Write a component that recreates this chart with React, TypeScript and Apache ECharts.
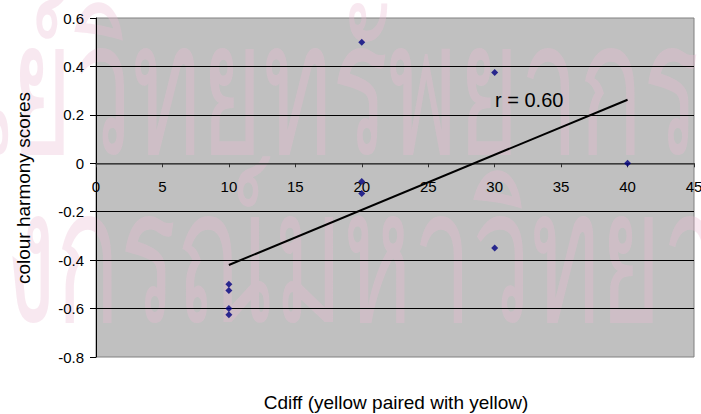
import React, { useEffect, useRef } from "react";
import * as echarts from "echarts";

const xValues = [10, 10, 10, 10, 20, 20, 20, 30, 30, 40];
const yValues = [-0.5, -0.525, -0.6, -0.625, 0.5, -0.075, -0.125, 0.375, -0.35, 0];
const xTicks = { min: 0, max: 45, step: 5 };
const yTicks = { min: -0.8, max: 0.6, step: 0.2 };
const xTitle = "Cdiff (yellow paired with yellow)";
const yTitle = "colour harmony scores";
const watermarkTop = "ศูนย์วิทยทรัพยากร";
const watermarkBottom = "จุฬาลงกรณ์มหาวิทยาลัย";

const FONT = "'Liberation Sans', Arial, sans-serif";

function regression(xs: number[], ys: number[]) {
  const n = xs.length;
  const mx = xs.reduce((a, b) => a + b, 0) / n;
  const my = ys.reduce((a, b) => a + b, 0) / n;
  let sxy = 0, sxx = 0, syy = 0;
  for (let i = 0; i < n; i++) {
    sxy += (xs[i] - mx) * (ys[i] - my);
    sxx += (xs[i] - mx) ** 2;
    syy += (ys[i] - my) ** 2;
  }
  const slope = sxy / sxx;
  const intercept = my - slope * mx;
  const r = sxy / Math.sqrt(sxx * syy);
  return { slope, intercept, r };
}

export default function App() {
  const ref = useRef<HTMLDivElement>(null);
  useEffect(() => {
    if (!ref.current) return;
    const chart = echarts.init(ref.current, null, { renderer: "svg" });
    const { slope, intercept, r } = regression(xValues, yValues);
    const xMin = Math.min(...xValues);
    const xMax = Math.max(...xValues);
    const trend = [
      [xMin, intercept + slope * xMin],
      [xMax, intercept + slope * xMax],
    ];
    const gridTop = 18;
    const gridBottom = 57;
    const plotH = 414 - gridTop - gridBottom;
    // move the x axis up so it crosses the y axis at 0
    const zeroOffset = -plotH * (0 - yTicks.min) / (yTicks.max - yTicks.min);
    const wmFill = "rgba(235,188,210,0.34)";
    chart.setOption({
      animation: false,
      backgroundColor: "#ffffff",
      grid: {
        left: 96,
        right: 7,
        top: gridTop,
        bottom: gridBottom,
        show: true,
        z: 0,
        containLabel: false,
        outerBoundsMode: "none",
        backgroundColor: "#c0c0c0",
        borderColor: "#808080",
        borderWidth: 1,
      },
      xAxis: {
        type: "value",
        z: 3,
        min: xTicks.min,
        max: xTicks.max,
        interval: xTicks.step,
        position: "bottom",
        offset: zeroOffset,
        axisLine: { onZero: false, lineStyle: { color: "#505050", width: 1.5 } },
        axisTick: { show: true, length: 4, lineStyle: { color: "#303030" } },
        axisLabel: { fontFamily: FONT, fontSize: 15, color: "#000", margin: 16 },
        splitLine: { show: false },
      },
      yAxis: {
        type: "value",
        z: 3,
        min: yTicks.min,
        max: yTicks.max,
        interval: yTicks.step,
        axisLine: { show: true, onZero: false, lineStyle: { color: "#000", width: 1 } },
        axisTick: { show: true, length: 6, lineStyle: { color: "#000" } },
        axisLabel: { fontFamily: FONT, fontSize: 15, color: "#000", margin: 12 },
        splitLine: {
          show: true,
          showMinLine: false,
          showMaxLine: false,
          lineStyle: { color: "#000", width: 1 },
        },
      },
      series: [
        {
          type: "line",
          data: trend,
          showSymbol: false,
          symbol: "none",
          lineStyle: { color: "#000", width: 2 },
          z: 4,
        },
        {
          type: "scatter",
          data: xValues.map((x, i) => [x, yValues[i]]),
          symbol: "diamond",
          symbolSize: 7,
          itemStyle: { color: "#000080" },
          z: 5,
        },
      ],
      graphic: [
        {
          type: "text",
          x: 495,
          y: 100,
          z: 10,
          style: {
            text: "r = " + r.toFixed(2),
            font: `20px ${FONT}`,
            fill: "#000",
            textVerticalAlign: "middle",
          },
        },
        {
          type: "text",
          x: 396,
          y: 402,
          z: 10,
          style: {
            text: xTitle,
            font: `19px ${FONT}`,
            fill: "#000",
            textAlign: "center",
            textVerticalAlign: "middle",
          },
        },
        {
          type: "text",
          x: 23,
          y: 188,
          rotation: Math.PI / 2,
          z: 10,
          style: {
            text: yTitle,
            font: `19px ${FONT}`,
            fill: "#000",
            textAlign: "center",
            textVerticalAlign: "middle",
          },
        },
        {
          type: "text",
          x: -128,
          y: -13,
          scaleY: 1.8,
          z: 1,
          silent: true,
          style: {
            text: watermarkTop,
            font: `105px 'Noto Sans', sans-serif`,
            fill: wmFill,
          },
        },
        {
          type: "text",
          x: -253,
          y: 155,
          scaleY: 1.8,
          z: 1,
          silent: true,
          style: {
            text: watermarkBottom,
            font: `105px 'Noto Sans', sans-serif`,
            fill: wmFill,
          },
        },
      ],
    });
    return () => chart.dispose();
  }, []);
  return <div ref={ref} style={{ width: 701, height: 414, position: "absolute", left: 0, top: 0 }} />;
}
